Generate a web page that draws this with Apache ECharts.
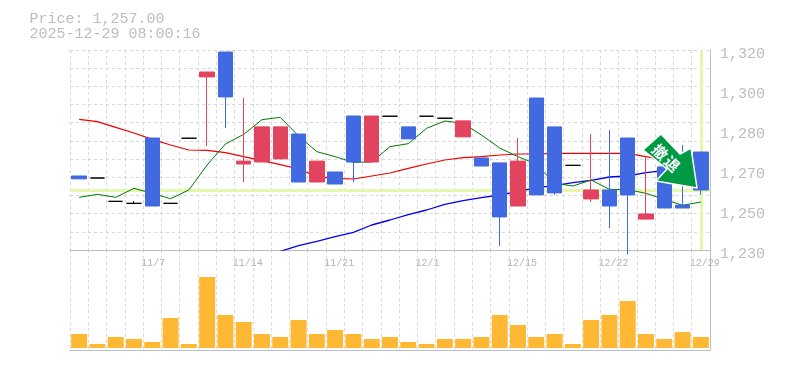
<!DOCTYPE html>
<html><head><meta charset="utf-8">
<style>html,body{margin:0;padding:0;background:#fff}#c{width:785px;height:370px}</style>
<script src="https://cdn.jsdelivr.net/npm/echarts@6/dist/echarts.min.js"></script>
</head><body><div id="c"></div>
<script>
const xLabels = ['','','','','11/7','','','','','11/14','','','','','11/21','','','','','12/1','','','','','12/15','','','','','12/22','','','','','12/29'];
// open, close, low, high
const ohlc = [
[1263.3,1262.0,1262.0,1263.3],[1262.4,1262.4,1262.4,1262.4],[1251.9,1251.9,1251.9,1251.9],[1251.0,1251.0,1251.0,1252.0],
[1280.4,1249.8,1249.8,1280.4],[1251.0,1251.0,1251.0,1251.0],[1280.3,1280.3,1280.3,1280.3],[1307.9,1310.1,1276.8,1310.1],
[1319.1,1298.9,1284.9,1319.1],[1268.7,1270.0,1260.6,1298.4],[1269.6,1285.4,1269.6,1285.4],[1271.0,1285.4,1271.0,1285.4],
[1282.2,1260.6,1260.6,1282.2],[1260.6,1270.0,1260.6,1270.0],[1265.1,1259.7,1259.7,1265.1],[1290.3,1269.6,1260.6,1290.3],
[1269.6,1290.3,1269.6,1290.3],[1290.2,1290.2,1290.2,1290.2],[1285.4,1280.0,1280.0,1285.4],[1290.2,1290.2,1290.2,1290.2],
[1289.3,1289.3,1289.3,1289.3],[1280.9,1288.1,1280.9,1288.1],[1271.4,1267.8,1267.8,1271.4],[1269.2,1244.9,1231.8,1269.2],
[1249.8,1270.0,1249.8,1280.4],[1298.4,1254.8,1254.8,1298.4],[1285.4,1255.7,1254.8,1285.4],[1268.1,1268.1,1268.1,1268.1],
[1253.0,1257.0,1251.6,1282.2],[1257.0,1249.8,1239.9,1284.0],[1280.4,1254.8,1228.0,1280.4],[1243.9,1246.2,1243.9,1272.3],
[1267.4,1248.9,1248.9,1267.4],[1250.2,1248.9,1248.9,1277.2],[1274.1,1257.0,1254.8,1274.1]];
const maShort = [1253.7,1255.05,1253.7,1257.75,1255.5,1253.1,1257,1268.25,1277.7,1282.05,1288.65,1289.7,1281.3,1274.25,1272,1269.45,1269.6,1276.5,1277.85,1284.75,1288.05,1287,1281.75,1275.9,1272,1268.55,1260,1258.8,1261.5,1257.3,1257.15,1255.5,1252.8,1250.1,1251.6];
const maMid = [1288.8,1287.75,1285.2,1282.65,1279.8,1277.25,1275,1274.85,1273.8,1272,1270.2,1268.4,1266.45,1263,1262.25,1261.95,1263.3,1264.65,1266.75,1268.7,1270.5,1271.55,1272,1272.75,1273.2,1273.2,1273.5,1273.5,1273.5,1273.5,1273.5,1272,1270.5,1269,1268];
const maLong = [null,null,null,null,null,null,null,null,null,null,null,1229.4,1231.95,1233.9,1236,1237.95,1241.25,1243.5,1245.9,1248,1250.55,1252.2,1253.55,1254.75,1256.25,1258.05,1258.95,1260.3,1261.35,1262.85,1263.3,1264.8,1265.7,1266.6,1267.5];
const volume = [14,4,11,9,6,30,4,71,33,26,14,11,28,14,18,14,9,11,6,4,9,9,11,33,23,11,14,4,28,33,47,14,9,16,11];
const priceTicks = [1230,1248,1266,1284,1302,1320];
const priceTickLabels = ['1,230','1,250','1,270','1,280','1,300','1,320'];
const lastPrice = 1257;
const lastIndex = 34;
const titleLines = ['Price: 1,257.00','2025-12-29 08:00:16'];
const arrowText = ['撤','退'];

const RED='#E2435F', BLUE='#4169E1', GRAY='#bdbdbd', GRID='#d8d8d8', BAND='#E4F7AC', MONO='"Liberation Mono",monospace';
const chart = echarts.init(document.getElementById('c'));
const vSplit = {show:true,interval:0,lineStyle:{color:GRID,type:[3,3],width:1}};
const candleData = ohlc.map(d=>{
  const doji = d[0]===d[1];
  return doji ? {value:d,itemStyle:{borderColor:'#000',borderColor0:'#000',borderColorDoji:'#000',color:'#000',color0:'#000'}} : {value:d};
});
chart.setOption({
  animation:false,
  backgroundColor:'#fff',
  grid:[{left:70,top:50,width:640,height:200},{left:70,top:250,width:640,height:100}],
  xAxis:[
    {type:'category',gridIndex:0,data:xLabels,boundaryGap:true,
     axisLine:{show:true,onZero:false,lineStyle:{color:GRAY,width:1}},axisTick:{show:false},
     splitLine:vSplit,
     axisLabel:{interval:0,color:'#b4b4b4',fontFamily:MONO,fontSize:10,margin:8,align:'left',padding:[0,0,0,-11],showMaxLabel:true,hideOverlap:false}},
    {type:'category',gridIndex:1,data:xLabels,boundaryGap:true,
     axisLine:{show:true,onZero:false,lineStyle:{color:GRAY,width:1}},axisTick:{show:false},
     splitLine:vSplit,axisLabel:{show:false}}
  ],
  yAxis:[
    {type:'value',gridIndex:0,position:'right',min:1230,max:1320,scale:true,
     axisLine:{show:true,lineStyle:{color:GRAY,width:1}},axisTick:{show:false,customValues:priceTicks},splitLine:{show:false},
     axisLabel:{customValues:priceTicks,color:GRAY,fontFamily:MONO,fontSize:15,margin:10,verticalAlign:'top',lineHeight:8,
       formatter:v=>priceTickLabels[priceTicks.indexOf(v)]}},
    {type:'value',gridIndex:0,position:'left',min:0,max:11,interval:1,
     axisLine:{show:false},axisTick:{show:false},axisLabel:{show:false},
     splitLine:{show:true,lineStyle:{color:GRID,type:[3,3],width:1}}},
    {type:'value',gridIndex:1,position:'right',min:-2,max:98,
     axisLine:{show:true,lineStyle:{color:GRAY,width:1}},axisTick:{show:false},axisLabel:{show:false},splitLine:{show:false}}
  ],
  series:[
    {type:'line',xAxisIndex:0,yAxisIndex:0,data:[],z:1,silent:true,
     markLine:{symbol:'none',silent:true,label:{show:false},z:1,animation:false,
       lineStyle:{color:BAND,width:3,type:'solid'},
       data:[{yAxis:lastPrice},{xAxis:lastIndex}]}},
    {name:'long',type:'line',xAxisIndex:0,yAxisIndex:0,data:maLong,showSymbol:false,z:3,lineStyle:{color:'#0000ee',width:1.3},clip:true},
    {name:'mid',type:'line',xAxisIndex:0,yAxisIndex:0,data:maMid,showSymbol:false,z:3,lineStyle:{color:'#ee0000',width:1.2},clip:true},
    {name:'short',type:'line',xAxisIndex:0,yAxisIndex:0,data:maShort,showSymbol:false,z:3,lineStyle:{color:'#007a00',width:1},clip:true},
    {name:'price',type:'candlestick',xAxisIndex:0,yAxisIndex:0,barWidth:15,z:4,clip:true,data:candleData,
     itemStyle:{color:RED,color0:BLUE,borderColor:RED,borderColor0:BLUE,borderColorDoji:'#000',borderWidth:1}},
    {name:'volume',type:'bar',xAxisIndex:1,yAxisIndex:2,barWidth:16,z:4,data:volume,itemStyle:{color:'#FFB833'}}
  ],
  graphic:[
    {type:'text',left:29.5,top:11.5,z:10,style:{text:titleLines.join('\n'),fill:GRAY,font:'15px '+MONO,lineHeight:15}},
    {type:'polygon',z:10,shape:{points:[[661,134],[680,154],[691,148],[697,188],[656,181],[667,169],[643,150]]},
     style:{fill:'#009944',stroke:'#fff',lineWidth:1.5,lineJoin:'round'}},
    {type:'text',z:11,x:660,y:152,rotation:-Math.PI/4,
     style:{text:arrowText[0],fill:'#fff',font:'bold 15px "Noto Sans CJK JP"',align:'center',verticalAlign:'middle'}},
    {type:'text',z:11,x:672,y:164,rotation:-Math.PI/4,
     style:{text:arrowText[1],fill:'#fff',font:'bold 15px "Noto Sans CJK JP"',align:'center',verticalAlign:'middle'}}
  ]
});
</script></body></html>
